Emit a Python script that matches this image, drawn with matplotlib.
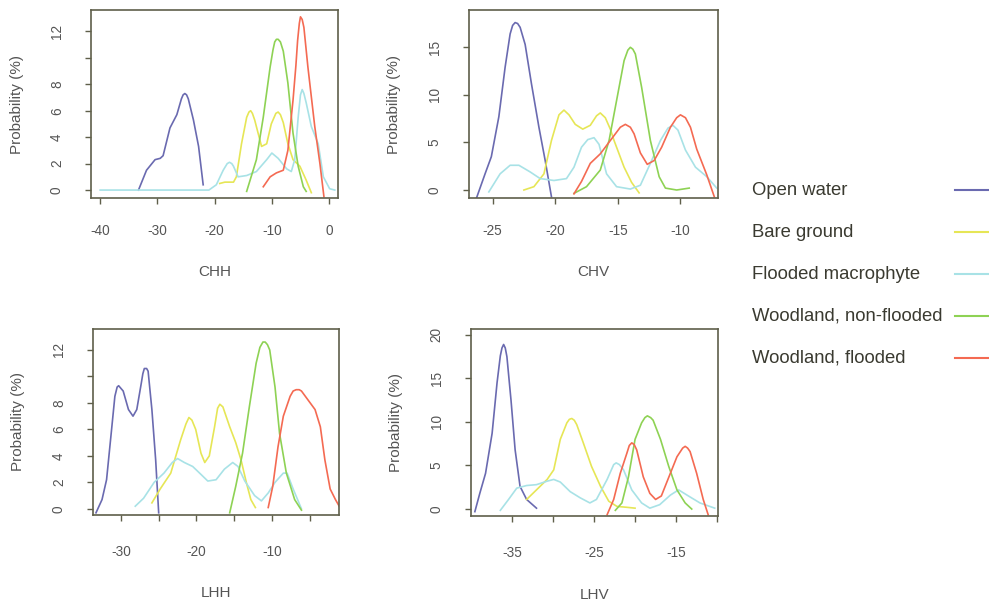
import matplotlib.pyplot as plt
from matplotlib.lines import Line2D

plt.rcParams['font.family'] = ['Liberation Sans', 'DejaVu Sans']

classes = ['Open water', 'Bare ground', 'Flooded macrophyte',
           'Woodland, non-flooded', 'Woodland, flooded']
colors = ['#6a6ab0', '#e6e656', '#a8e2e6', '#8ed254', '#f46a52']

# ---- CHH ----
chh_water_x = [-33.3, -31.9, -30.4, -29.5, -29.0, -27.8, -26.6, -25.8, -25.5, -25.2, -24.9, -24.6, -23.7, -22.8, -22.0]
chh_water_y = [0.0, 1.5, 2.3, 2.4, 2.6, 4.7, 5.7, 6.9, 7.2, 7.3, 7.2, 6.9, 5.3, 3.3, 0.4]
chh_bare_x = [-19.1, -18.2, -16.7, -16.2, -15.3, -14.4, -14.0, -13.7, -13.4, -13.0, -11.8, -10.9, -10.1, -9.3, -8.9, -8.5, -8.0, -7.2, -6.3, -5.1, -4.0, -3.1]
chh_bare_y = [0.5, 0.6, 0.6, 1.0, 3.5, 5.5, 5.9, 6.0, 5.8, 5.3, 3.3, 3.5, 5.0, 5.8, 5.9, 5.7, 5.1, 3.5, 2.3, 1.8, 0.75, -0.2]
chh_macro_x = [-40.0, -21.0, -19.7, -18.5, -17.8, -17.4, -17.0, -16.7, -15.9, -14.4, -12.7, -10.9, -10.0, -8.9, -7.4, -6.6, -6.0, -5.4, -5.0, -4.7, -4.4, -4.0, -3.1, -1.9, -1.0, 0.1, 1.0]
chh_macro_y = [0.0, 0.0, 0.4, 1.5, 2.0, 2.1, 2.0, 1.8, 1.0, 1.1, 1.4, 2.3, 2.8, 2.4, 1.6, 1.4, 2.3, 5.5, 7.2, 7.6, 7.3, 6.6, 4.8, 3.5, 1.0, 0.1, 0.0]
chh_wood_x = [-14.4, -12.7, -11.5, -10.3, -9.8, -9.5, -9.2, -8.9, -8.5, -8.0, -7.2, -6.3, -5.4, -4.5, -4.0]
chh_wood_y = [-0.1, 2.3, 5.5, 9.3, 10.6, 11.2, 11.4, 11.4, 11.2, 10.5, 8.1, 4.3, 1.8, 0.25, -0.1]
chh_woodfl_x = [-11.5, -10.3, -9.2, -8.0, -7.2, -6.3, -5.8, -5.5, -5.2, -5.0, -4.7, -4.4, -3.7, -2.5, -1.6, -0.9]
chh_woodfl_y = [0.25, 1.0, 1.3, 1.5, 3.0, 6.8, 9.4, 11.3, 12.6, 13.1, 12.9, 12.3, 9.3, 4.8, 2.0, -0.5]

# ---- CHV ----
chv_water_x = [-26.3, -25.6, -25.1, -24.5, -24.0, -23.6, -23.4, -23.2, -23.0, -22.8, -22.4, -21.9, -21.3, -20.8, -20.3]
chv_water_y = [-0.9, 1.7, 3.5, 7.7, 12.9, 16.4, 17.3, 17.6, 17.5, 17.1, 15.3, 11.2, 6.6, 3.1, -0.7]
chv_bare_x = [-22.5, -21.7, -20.9, -20.3, -19.7, -19.3, -18.9, -18.4, -17.8, -17.2, -16.7, -16.4, -16.0, -15.6, -15.3, -14.5, -13.9, -13.3]
chv_bare_y = [0.0, 0.35, 1.7, 5.2, 7.9, 8.4, 7.9, 6.9, 6.4, 6.8, 7.8, 8.1, 7.6, 6.4, 5.2, 2.4, 0.8, -0.3]
chv_macro_x = [-25.3, -24.4, -23.6, -22.9, -22.0, -21.2, -20.1, -19.1, -18.5, -17.9, -17.4, -16.9, -16.5, -15.9, -15.1, -14.0, -13.2, -12.4, -11.6, -11.0, -10.6, -10.2, -9.6, -8.8, -7.9, -7.1]
chv_macro_y = [-0.2, 1.7, 2.6, 2.6, 1.9, 1.2, 1.0, 1.2, 2.4, 4.5, 5.3, 5.5, 4.8, 1.7, 0.35, 0.1, 0.5, 2.8, 5.2, 6.5, 6.8, 6.3, 4.2, 2.4, 1.4, 0.2]
chv_wood_x = [-18.5, -17.5, -16.4, -15.7, -15.1, -14.5, -14.2, -14.0, -13.8, -13.6, -13.1, -12.4, -11.7, -11.2, -10.3, -9.3]
chv_wood_y = [-0.35, 0.35, 2.1, 5.2, 9.4, 13.6, 14.7, 15.0, 14.8, 14.3, 10.8, 5.2, 1.4, 0.2, 0.0, 0.2]
chv_woodfl_x = [-18.5, -17.9, -17.2, -16.4, -15.6, -14.8, -14.4, -14.0, -13.7, -13.2, -12.65, -12.1, -11.5, -10.8, -10.3, -10.0, -9.6, -9.2, -8.7, -7.9, -7.3]
chv_woodfl_y = [-0.4, 0.9, 2.8, 3.8, 5.2, 6.6, 6.9, 6.6, 5.9, 3.9, 2.7, 3.1, 4.5, 6.6, 7.6, 7.9, 7.6, 6.6, 4.3, 1.6, -0.7]

# ---- LHH ----
lhh_water_x = [-33.3, -32.5, -31.9, -31.2, -30.8, -30.5, -30.3, -30.0, -29.7, -29.0, -28.4, -27.9, -27.3, -27.1, -26.9, -26.6, -26.4, -25.9, -25.4, -25.0]
lhh_water_y = [-0.3, 0.7, 2.2, 6.2, 8.5, 9.2, 9.3, 9.1, 8.9, 7.5, 7.0, 7.5, 9.5, 10.2, 10.6, 10.6, 10.4, 7.5, 3.7, -0.3]
lhh_bare_x = [-25.9, -24.8, -23.4, -22.1, -21.4, -21.0, -20.6, -20.1, -19.4, -18.9, -18.3, -17.6, -17.2, -16.9, -16.5, -15.6, -14.8, -14.1, -13.4, -12.8, -12.2]
lhh_bare_y = [0.45, 1.5, 2.7, 5.2, 6.4, 6.9, 6.7, 6.0, 4.2, 3.5, 4.0, 6.2, 7.6, 7.9, 7.7, 6.2, 5.0, 3.7, 2.0, 0.7, 0.1]
lhh_macro_x = [-28.1, -27.0, -25.6, -24.3, -23.2, -22.5, -21.6, -20.5, -19.4, -18.5, -17.4, -16.3, -15.2, -14.5, -13.6, -12.3, -11.4, -10.5, -9.6, -8.5, -8.0, -7.2, -6.1]
lhh_macro_y = [0.2, 0.8, 2.0, 2.7, 3.5, 3.8, 3.5, 3.2, 2.6, 2.1, 2.2, 3.0, 3.5, 3.2, 2.1, 1.0, 0.6, 1.2, 2.0, 2.7, 2.7, 1.5, 0.0]
lhh_wood_x = [-15.6, -14.8, -13.9, -13.0, -12.1, -11.6, -11.2, -10.9, -10.6, -10.3, -9.6, -9.0, -8.1, -7.0, -6.1]
lhh_wood_y = [-0.3, 1.7, 4.2, 7.7, 11.0, 12.2, 12.6, 12.6, 12.4, 12.0, 9.2, 5.7, 2.7, 0.7, -0.1]
lhh_woodfl_x = [-10.5, -9.9, -9.2, -8.5, -7.6, -7.2, -6.8, -6.4, -6.1, -5.2, -4.3, -3.6, -3.0, -2.3, -1.6, -1.0]
lhh_woodfl_y = [0.1, 1.7, 4.7, 7.0, 8.5, 8.9, 9.0, 9.0, 8.9, 8.2, 7.5, 6.2, 3.7, 1.5, 0.7, 0.1]

# ---- LHV ----
lhv_water_x = [-39.5, -38.9, -38.2, -37.4, -36.8, -36.4, -36.2, -36.0, -35.8, -35.6, -35.1, -34.6, -34.0, -33.2, -32.0]
lhv_water_y = [-0.3, 1.8, 4.1, 8.7, 14.5, 17.6, 18.5, 18.9, 18.5, 17.5, 12.5, 6.8, 2.6, 1.1, 0.1]
lhv_bare_x = [-33.2, -32.0, -30.7, -29.9, -29.1, -28.3, -28.0, -27.7, -27.4, -27.1, -26.3, -25.3, -24.2, -23.2, -22.2, -21.0, -20.0]
lhv_bare_y = [1.1, 2.2, 3.4, 4.5, 8.0, 9.9, 10.3, 10.4, 10.2, 9.7, 7.6, 4.9, 2.6, 0.9, 0.3, 0.2, 0.1]
lhv_macro_x = [-36.4, -35.4, -34.4, -33.2, -32.0, -30.7, -29.9, -29.1, -27.9, -26.7, -25.5, -24.7, -23.4, -22.6, -22.3, -21.9, -21.4, -20.4, -19.2, -18.2, -17.0, -15.7, -14.7, -13.5, -12.1, -10.3]
lhv_macro_y = [-0.15, 1.1, 2.4, 2.7, 2.8, 3.2, 3.4, 3.1, 2.0, 1.3, 0.7, 1.1, 3.4, 5.1, 5.3, 5.1, 4.5, 2.2, 0.7, 0.1, 0.5, 1.6, 2.2, 1.5, 0.7, 0.1]
lhv_wood_x = [-22.4, -21.6, -20.8, -20.0, -19.2, -18.8, -18.5, -18.1, -17.8, -16.9, -15.9, -14.9, -13.9, -13.1]
lhv_wood_y = [-0.15, 0.7, 3.7, 8.0, 9.9, 10.5, 10.7, 10.5, 10.2, 8.0, 4.9, 2.2, 0.7, 0.0]
lhv_woodfl_x = [-23.4, -22.6, -21.8, -21.0, -20.7, -20.4, -20.1, -19.8, -19.0, -18.2, -17.5, -16.8, -16.0, -14.9, -14.2, -13.9, -13.6, -13.3, -12.5, -11.7, -11.1]
lhv_woodfl_y = [-0.65, 1.1, 4.1, 6.4, 7.3, 7.6, 7.4, 6.8, 3.7, 1.8, 1.1, 1.5, 3.4, 6.0, 7.0, 7.2, 7.0, 6.6, 4.1, 1.1, -0.65]

frame_col = '#5f5f4a'
text_col = '#555555'


def panel(rect, curves, xlim, ylim, xticks, xlabels, yticks, ylabels, name, xpad):
    ax = fig.add_axes(rect)
    for (x, y), c in zip(curves, colors):
        ax.plot(x, y, color=c, lw=1.2)
    ax.set_xlim(*xlim)
    ax.set_ylim(*ylim)
    ax.set_xticks(xticks)
    ax.set_xticklabels(xlabels)
    ax.set_yticks(yticks)
    ax.set_yticklabels(ylabels, rotation=90, va='center')
    ax.tick_params(direction='out', length=4.5, width=1, color=frame_col,
                   labelcolor=text_col, labelsize=9.8)
    ax.tick_params(axis='x', pad=xpad)
    ax.tick_params(axis='y', pad=15)
    for s in ax.spines.values():
        s.set_color(frame_col)
        s.set_linewidth(1.2)
    ax.set_xlabel(name, fontsize=11, color=text_col, labelpad=20)
    ax.set_ylabel('Probability (%)', fontsize=11, color=text_col, labelpad=19)
    return ax


fig = plt.figure(figsize=(9.89, 6.0), dpi=100)

panel([0.092, 0.670, 0.250, 0.313],
      [(chh_water_x, chh_water_y), (chh_bare_x, chh_bare_y), (chh_macro_x, chh_macro_y),
       (chh_wood_x, chh_wood_y), (chh_woodfl_x, chh_woodfl_y)],
      (-41.6, 1.6), (-0.6, 13.6),
      [-40, -30, -20, -10, 0], ['-40', '-30', '-20', '-10', '0'],
      [0, 2, 4, 6, 8, 10, 12], ['0', '2', '4', '6', '8', '', '12'], 'CHH', 14)

panel([0.474, 0.670, 0.252, 0.313],
      [(chv_water_x, chv_water_y), (chv_bare_x, chv_bare_y), (chv_macro_x, chv_macro_y),
       (chv_wood_x, chv_wood_y), (chv_woodfl_x, chv_woodfl_y)],
      (-26.9, -7.0), (-0.84, 18.9),
      [-25, -20, -15, -10], ['-25', '-20', '-15', '-10'],
      [0, 5, 10, 15], ['0', '5', '10', '15'], 'CHV', 14)

panel([0.094, 0.142, 0.249, 0.310],
      [(lhh_water_x, lhh_water_y), (lhh_bare_x, lhh_bare_y), (lhh_macro_x, lhh_macro_y),
       (lhh_wood_x, lhh_wood_y), (lhh_woodfl_x, lhh_woodfl_y)],
      (-33.7, -1.1), (-0.45, 13.6),
      [-30, -25, -20, -15, -10, -5], ['-30', '', '-20', '', '-10', ''],
      [0, 2, 4, 6, 8, 10, 12], ['0', '2', '4', '6', '8', '', '12'], 'LHH', 17)

panel([0.476, 0.140, 0.250, 0.312],
      [(lhv_water_x, lhv_water_y), (lhv_bare_x, lhv_bare_y), (lhv_macro_x, lhv_macro_y),
       (lhv_wood_x, lhv_wood_y), (lhv_woodfl_x, lhv_woodfl_y)],
      (-40.0, -9.9), (-0.8, 20.7),
      [-35, -30, -25, -20, -15, -10], ['-35', '', '-25', '', '-15', ''],
      [0, 5, 10, 15, 20], ['0', '5', '10', '15', '20'], 'LHV', 17)

# legend: labels on the left, line keys on the right (R style)
leg_y = [0.683, 0.613, 0.543, 0.473, 0.403]
for lab, c, yy in zip(classes, colors, leg_y):
    fig.text(0.760, yy, lab, fontsize=13.3, color='#3a3a30', va='center', ha='left')
    fig.add_artist(Line2D([0.966, 1.0], [yy, yy], color=c, lw=1.5,
                          transform=fig.transFigure))

fig.savefig('out.png', dpi=100)
